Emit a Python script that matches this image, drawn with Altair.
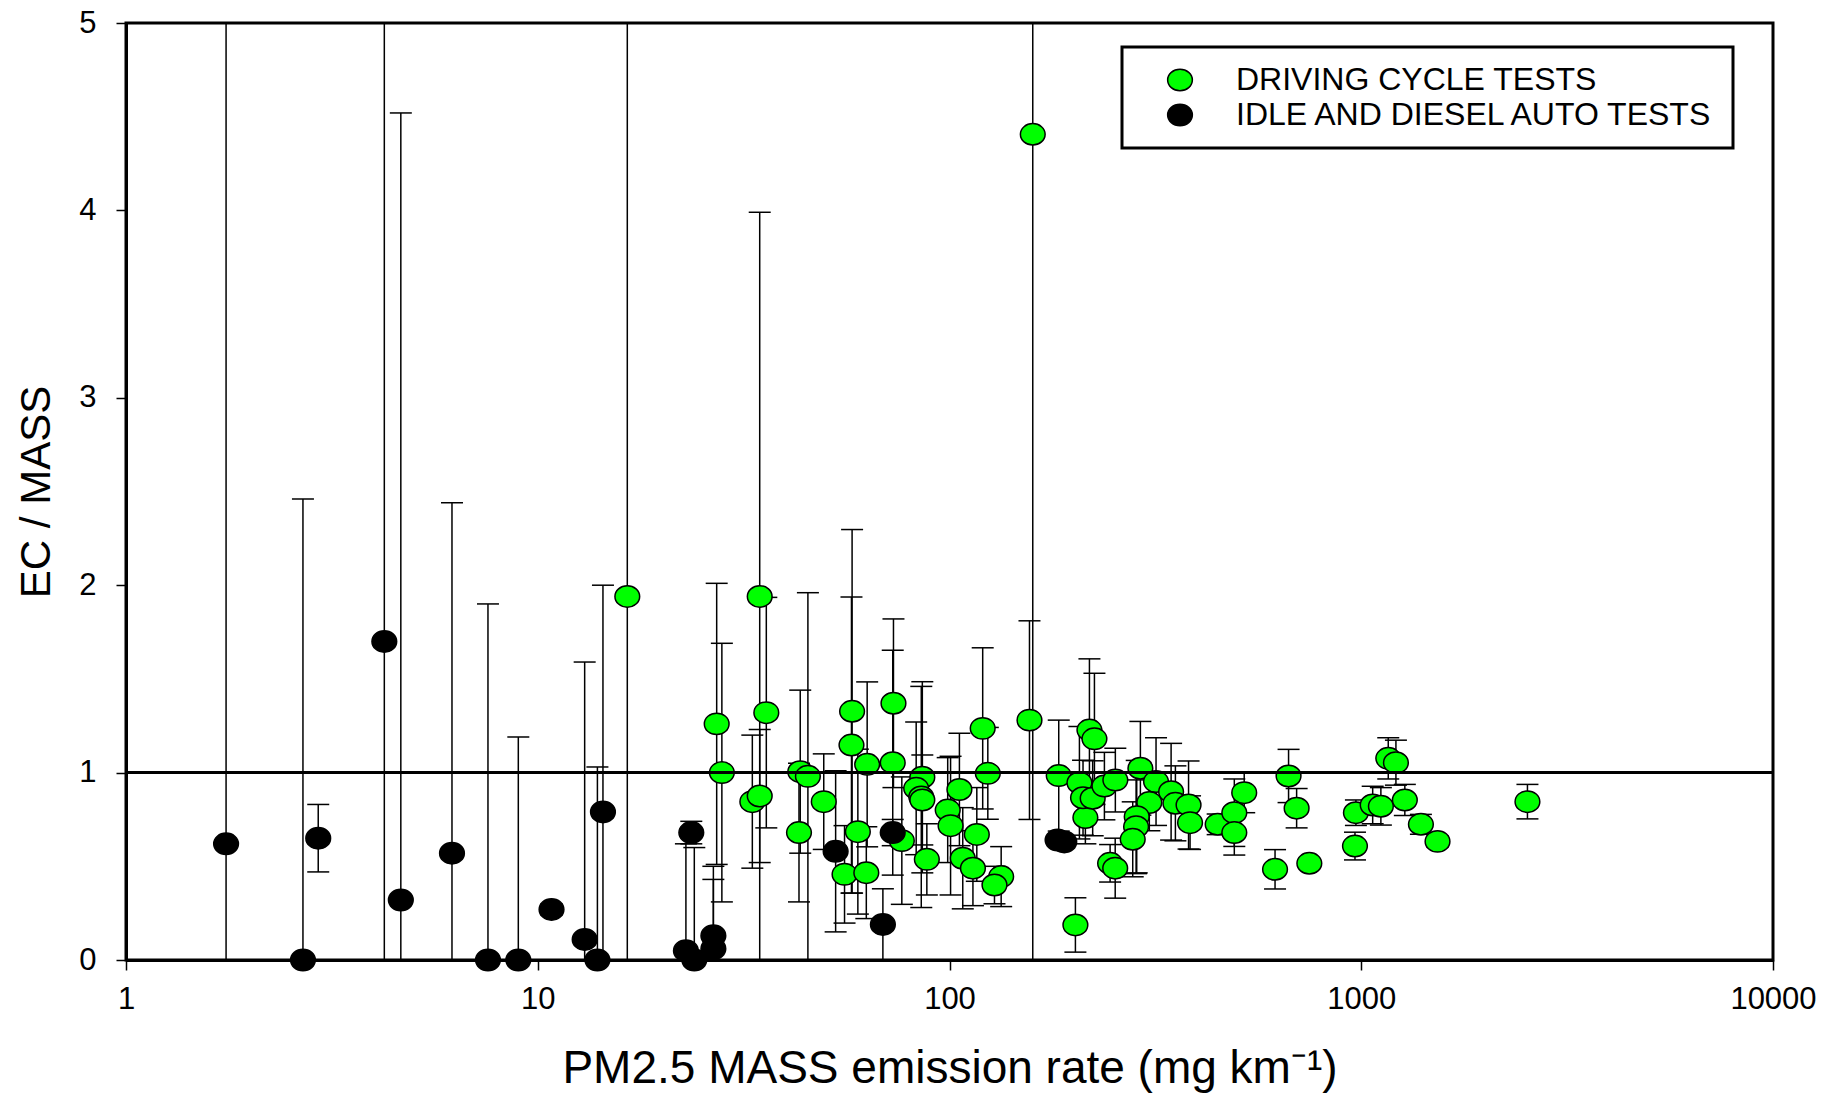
import altair as alt
import pandas as pd

# ---------------- data ----------------
green_x = [16.5, 27.2, 28.0, 33.2, 34.6, 35.9, 34.6, 43.1, 43.4, 45.3, 49.5, 55.6, 58.0, 57.8, 59.9,
           62.8, 63.1, 73.1, 72.8, 76.6, 85.9, 83.0, 85.4, 85.9, 88.1, 99.0, 100.6, 105.7, 107.7, 114,
           116.5, 120.4, 123.9, 133.5, 128.6, 156.4, 159.3, 184.2, 206.8, 218.7, 224.9, 213.8, 211,
           222.7, 237.8, 252.8, 245.5, 252.6, 202.2, 290.8, 317.4, 305.7, 284.9, 283.9, 278.6, 345.3,
           353.7, 380.7, 383.9, 448, 491.7, 491.7, 519.7, 617.5, 666, 696.7, 748, 970.6, 965.5, 1066,
           1116, 1163, 1214, 1276, 1396, 1532, 2533]
green_y = [1.94, 1.26, 1.00, 0.845, 1.94, 1.32, 0.875, 0.68, 1.005, 0.98, 0.845, 0.457, 1.327, 1.147,
           0.685, 0.466, 1.044, 1.37, 1.053, 0.637, 0.975, 0.916, 0.87, 0.854, 0.537, 0.80, 0.717, 0.91,
           0.543, 0.49, 0.67, 1.236, 0.996, 0.445, 0.40, 1.28, 4.406, 0.984, 0.946, 1.227, 1.18, 0.76,
           0.866, 0.863, 0.928, 0.96, 0.516, 0.49, 0.187, 1.023, 0.952, 0.84, 0.765, 0.711, 0.644, 0.898,
           0.836, 0.827, 0.733, 0.724, 0.786, 0.68, 0.893, 0.484, 0.982, 0.81, 0.516, 0.786, 0.608,
           0.827, 0.82, 1.076, 1.053, 0.854, 0.724, 0.633, 0.845]
green_err = [3.5, 0.75, 0.69, 0.355, 2.05, 0.615, 0.355, 0.37, 0.435, 0.98, 0.255, 0.26, 0.97, 0.79,
             0.44, 0.245, 0.44, 0.45, 0.60, 0.34, 0.51, 0.354, 0.59, 0.24, 0.19, 0.28, 0.37, 0.3, 0.27,
             0.2, 0.25, 0.43, 0.245, 0.16, 0.1, 0.53, 4.6, 0.296, 0.3, 0.38, 0.35, 0.14, 0.2, 0.2, 0.18,
             0.17, 0.1, 0.16, 0.145, 0.25, 0.234, 0.15, 0.3, 0.25, 0.2, 0.258, 0.2, 0.235, 0.143, 0.055,
             0.18, 0.12, 0.107, 0.105, 0.142, 0.105, 0.0, 0.068, 0.074, 0.1, 0.1, 0.11, 0.12, 0.083,
             0.053, 0.03, 0.092]

black_x = [1.75, 2.69, 2.93, 4.24, 4.65, 6.19, 7.57, 8.97, 10.8, 13.0, 13.96, 14.4, 23.6, 22.9, 24.0,
           26.7, 26.7, 52.9, 68.9, 72.8, 183, 190]
black_y = [0.62, 0.0, 0.65, 1.70, 0.32, 0.57, 0.0, 0.0, 0.27, 0.11, 0.0, 0.79, 0.68, 0.05, 0.0, 0.13,
           0.06, 0.58, 0.19, 0.68, 0.64, 0.63]
black_err = [4.6, 2.46, 0.18, 3.6, 4.2, 1.87, 1.90, 1.19, 0.03, 1.48, 1.03, 1.21, 0.06, 0.57, 0.60,
             0.37, 0.37, 0.43, 0.19, 0.07, 0.0, 0.0]

groups = ["DRIVING CYCLE TESTS", "IDLE AND DIESEL AUTO TESTS"]
colors = ["#00ff00", "#000000"]
x_ticks = [1, 10, 100, 1000, 10000]
y_ticks = [0, 1, 2, 3, 4, 5]
ref_level = [1]

# ---------------- tables ----------------
df = pd.concat([
    pd.DataFrame({"x": green_x, "y": green_y, "err": green_err, "group": groups[0]}),
    pd.DataFrame({"x": black_x, "y": black_y, "err": black_err, "group": groups[1]}),
], ignore_index=True)
df["lo"] = df["y"] - df["err"]
df["hi"] = df["y"] + df["err"]
err_df = df[df["err"] > 0]
ref_df = pd.DataFrame({"ref": ref_level})

FONT = "Liberation Sans"
ELLIPSE = "M -1.15 0 A 1.15 1 0 1 0 1.15 0 A 1.15 1 0 1 0 -1.15 0 Z"

xscale = alt.Scale(type="log", domain=[1, 10000], nice=False)
yscale = alt.Scale(domain=[0, 5], nice=False, zero=False)
xaxis = alt.Axis(values=x_ticks, format="d", title="PM2.5 MASS emission rate (mg km\u207b\u00b9)",
                 titleFontSize=46, titlePadding=32, labelPadding=14, labelFlush=False)
yaxis = alt.Axis(values=y_ticks, title="EC / MASS", titleFontSize=42, titlePadding=20,
                 labelPadding=20)


def X(f):
    return alt.X(f, type="quantitative", scale=xscale, axis=xaxis)


def Y(f):
    return alt.Y(f, type="quantitative", scale=yscale, axis=yaxis)


bars = alt.Chart(err_df).mark_rule(clip=True, color="black", strokeWidth=1.5).encode(
    x=X("x"), y=Y("lo"), y2="hi")
cap_hi = alt.Chart(err_df).mark_tick(clip=True, orient="horizontal", size=22, thickness=1.5,
                                     color="black", opacity=1).encode(x=X("x"), y=Y("hi"))
cap_lo = alt.Chart(err_df).mark_tick(clip=True, orient="horizontal", size=22, thickness=1.5,
                                     color="black", opacity=1).encode(x=X("x"), y=Y("lo"))

points = alt.Chart(df).mark_point(filled=True, shape=ELLIPSE, size=462, stroke="black",
                                  strokeWidth=1.5, opacity=1, fillOpacity=1).encode(
    x=X("x"), y=Y("y"),
    fill=alt.Fill("group:N", scale=alt.Scale(domain=groups, range=colors),
                  legend=alt.Legend(title=None, orient="none", legendX=996, legendY=24,
                                    padding=17, symbolOffset=25, labelOffset=40, rowPadding=3,
                                    symbolType=ELLIPSE, symbolSize=462,
                                    symbolStrokeColor="black", symbolStrokeWidth=1.5,
                                    labelFontSize=32, labelFont=FONT, labelColor="black",
                                    labelLimit=0, strokeColor="black", fillColor="white")),
)

ref = alt.Chart(ref_df).mark_rule(color="black", strokeWidth=3).encode(y=Y("ref"))

chart = alt.layer(bars, cap_hi, cap_lo, points, ref).properties(
    width=1647, height=937,
    padding={"left": 126, "top": 23, "right": 53, "bottom": 136},
    autosize=alt.AutoSizeParams(type="none"),
    background="white",
).configure_view(
    stroke="black", strokeWidth=3
).configure_axis(
    labelFont=FONT, labelFontSize=31, labelColor="black", titleFont=FONT, titleColor="black",
    titleFontWeight="normal", tickColor="black", tickWidth=1.5, tickSize=10,
    domainColor="black", domainWidth=3, grid=False
).configure_legend(
    strokeWidth=3, cornerRadius=0
)

chart.save("out.html", embed_options={"renderer": "svg", "actions": False})
